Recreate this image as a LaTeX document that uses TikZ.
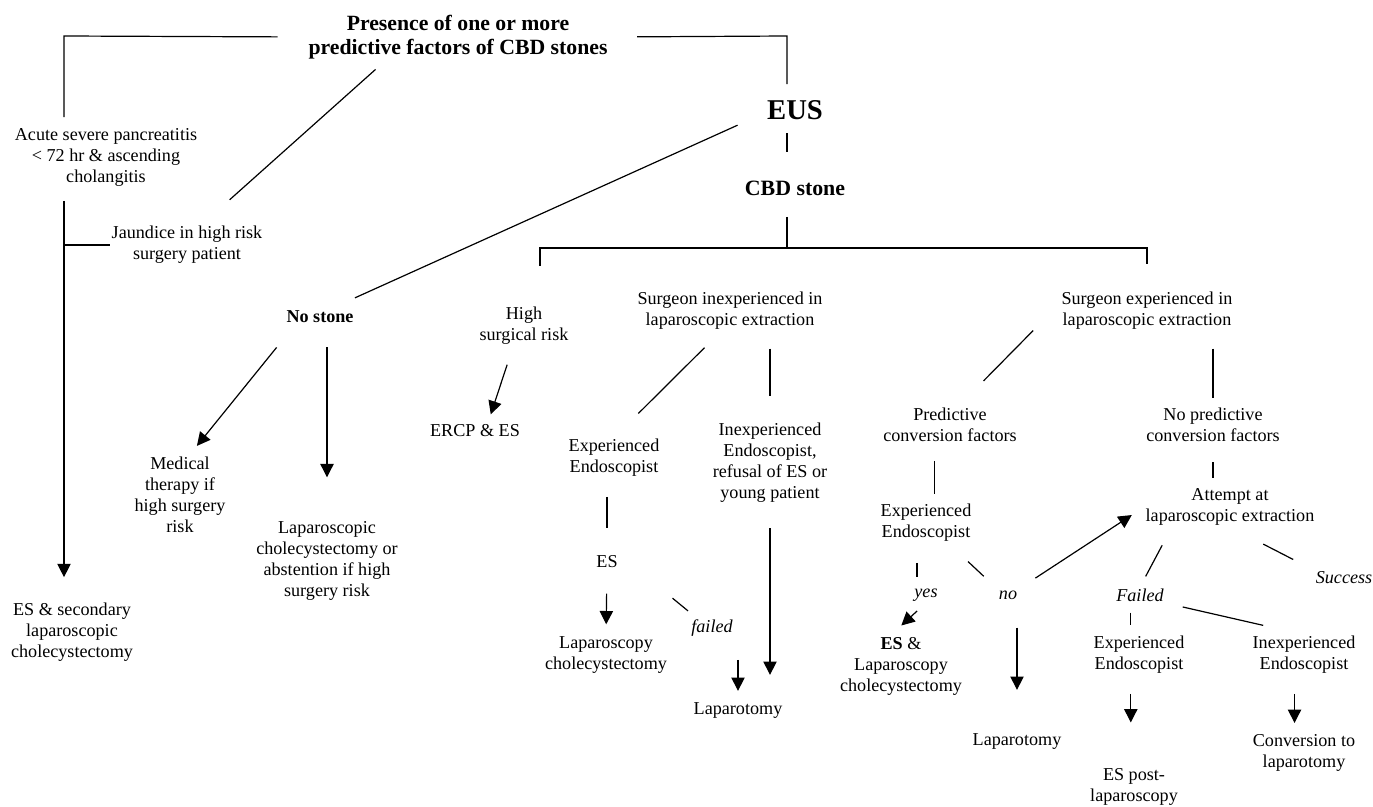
\documentclass[tikz,border=0pt]{standalone}
\usepackage{fontspec}
\setmainfont{Liberation Serif}
\usetikzlibrary{arrows.meta}

\begin{document}
\begin{tikzpicture}[x=0.75pt,y=0.75pt,yscale=-1,xscale=1,line width=0.9pt,
  txt/.style={align=center,inner sep=0.75pt,font=\fontsize{13.6}{15.75}\selectfont},
  txtb/.style={txt,font=\fontsize{13.6}{15.75}\selectfont\bfseries},
  txti/.style={txt,font=\fontsize{13.6}{15.75}\selectfont\itshape},
  ttl/.style={txt,font=\fontsize{16.3}{18}\selectfont\bfseries},
  arr/.style={-{Triangle[length=10pt,width=10pt]}}]
\useasboundingbox (0,0) rectangle (1373,806);

\coordinate (tl) at (64,36);
\coordinate (tr) at (787,36);
\coordinate (barl) at (540,248);
\coordinate (barr) at (1147,248);

% Text Node
\draw (458,37) node [ttl] (title) {Presence of one or more\\predictive factors of CBD stones};
% Text Node
\draw (795,110) node [txt,font=\fontsize{21.5}{24}\selectfont\bfseries] (eus) {EUS};
% Text Node
\draw (795,188) node [ttl,font=\fontsize{16.4}{18}\selectfont\bfseries] (cbd) {CBD stone};
% Text Node
\draw (106,157) node [txt] (acute) {Acute severe pancreatitis\\< 72 hr \& ascending\\cholangitis};
% Text Node
\draw (187,245) node [txt] (jaundice) {Jaundice in high risk\\surgery patient};
% Text Node
\draw (72,632) node [txt] (esec) {ES \& secondary\\laparoscopic\\cholecystectomy};
% Text Node
\draw (320,317) node [txtb] (nostone) {No stone};
% Text Node
\draw (180,495) node [txt] (medical) {Medical\\therapy if\\high surgery\\risk};
% Text Node
\draw (327,561) node [txt] (lapchol) {Laparoscopic\\cholecystectomy or\\abstention if high\\surgery risk};
% Text Node
\draw (524,326) node [txt] (highrisk) {High\\surgical risk};
% Text Node
\draw (475,431) node [txt] (ercp) {ERCP \& ES};
% Text Node
\draw (730,311) node [txt] (sinexp) {Surgeon inexperienced in\\laparoscopic extraction};
% Text Node
\draw (614,458) node [txt] (expendo1) {Experienced\\Endoscopist};
% Text Node
\draw (770,463) node [txt] (inexpendo1) {Inexperienced\\Endoscopist,\\refusal of ES or\\young patient};
% Text Node
\draw (607,562) node [txt] (es1) {ES};
% Text Node
\draw (606,655) node [txt] (lapchol1) {Laparoscopy\\cholecystectomy};
% Text Node
\draw (712,628) node [txti] (failed1) {failed};
% Text Node
\draw (738,711) node [txt] (laparotomy1) {Laparotomy};
% Text Node
\draw (1147,311) node [txt] (sexp) {Surgeon experienced in\\laparoscopic extraction};
% Text Node
\draw (950,425) node [txt] (predconv) {Predictive\\conversion factors};
% Text Node
\draw (1213,425) node [txt] (nopredconv) {No predictive\\conversion factors};
% Text Node
\draw (926,523) node [txt] (expendo2) {Experienced\\Endoscopist};
% Text Node
\draw (1230,507) node [txt] (attempt) {Attempt at\\laparoscopic extraction};
% Text Node
\draw (926,595) node [txti] (yesl) {yes};
% Text Node
\draw (1008,595) node [txti] (nol) {no};
% Text Node
\draw (901,666) node [txt] (esl) {\textbf{ES} \&\\Laparoscopy\\cholecystectomy};
% Text Node
\draw (1017,742) node [txt] (laparotomy2) {Laparotomy};
% Text Node
\draw (1140,595) node [txti] (failed2) {Failed};
% Text Node
\draw (1344,578) node [txti] (success) {Success};
% Text Node
\draw (1139,655) node [txt] (expendo3) {Experienced\\Endoscopist};
% Text Node
\draw (1304,655) node [txt] (inexpendo3) {Inexperienced\\Endoscopist};
% Text Node
\draw (1134,787) node [txt] (espost) {ES post-\\laparoscopy};
% Text Node
\draw (1304,753) node [txt] (conv) {Conversion to\\laparotomy};

% Connection
\draw [shorten <=22pt,shorten >=7pt] (title.west) -- (tl) -- (tl |- acute.north);
% Connection
\draw [arr,shorten <=10pt,shorten >=18pt] (tl |- acute.south) -- (tl |- esec.north);
% Connection
\draw (tl |- jaundice.west) -- (jaundice.west);
% Connection
\draw [shorten <=10pt,shorten >=28pt] (title.198) -- (jaundice.54);
% Connection
\draw [shorten <=21pt,shorten >=11pt] (title.east) -- (tr) -- (tr |- eus.north);
% Connection
\draw [shorten <=9pt,shorten >=20.6pt] (tr |- eus.south) -- (tr |- cbd.north);
% Connection
\draw [shorten <=15pt] (tr |- cbd.south) -- (tr |- barl);
% Connection
\draw [shorten <=30pt,shorten >=20pt] (barl |- highrisk.north) -- (barl) -- (barr) -- (barr |- sexp.north);
% Connection
\draw [shorten <=23pt,shorten >=21pt] (eus.185) -- (nostone.39);
% Connection
\draw [arr,shorten <=22pt,shorten >=9.3pt] (nostone.197) -- (medical.77);
% Connection
\draw [arr,shorten <=17pt,shorten >=32pt] (lapchol.north |- nostone.south) -- (lapchol.north);
% Connection
\draw [arr,shorten <=14.5pt,shorten >=7pt] (highrisk.242) -- (ercp.31);
% Connection
\draw [shorten <=17.4pt,shorten >=25.8pt] (sinexp.246) -- (expendo1.north);
% Connection
\draw [shorten <=13pt,shorten >=19pt] (inexpendo1.north |- sinexp.south) -- (inexpendo1.north);
% Connection
\draw [shorten <=14pt,shorten >=20pt] (es1.north |- expendo1.south) -- (es1.north);
% Connection
\draw [arr,shorten <=18pt,shorten >=8pt] (es1.south) -- (lapchol1.north);
% Connection
\draw [shorten <=51.8pt,shorten >=8.5pt] (es1.north east) -- (failed1.147);
% Connection
\draw [arr,shorten <=16.5pt,shorten >=8pt] (laparotomy1.north |- failed1.south) -- (laparotomy1.north);
% Connection
\draw [arr,shorten <=18pt,shorten >=20pt] (inexpendo1.south) -- (inexpendo1.south |- laparotomy1.north);
% Connection
\draw [shorten <=28.6pt,shorten >=27pt] (sexp.175) -- (predconv.66);
% Connection
\draw [shorten <=13pt,shorten >=6.4pt] (nopredconv.north |- sexp.south) -- (nopredconv.north);
% Connection
\draw [shorten <=13pt,shorten >=6.4pt] (expendo2.68 |- predconv.south) -- (expendo2.68);
% Connection
\draw [shorten <=14pt,shorten >=7pt] (nopredconv.south) -- (nopredconv.south |- attempt.north);
% Connection
\draw [shorten <=14.6pt,shorten >=8pt] (yesl.139 |- expendo2.south) -- (yesl.139);
% Connection
\draw [shorten <=20pt,shorten >=14pt] (expendo2.-42) -- (nol.north west);
% Connection
\draw [arr,shorten <=15pt,shorten >=11pt] (nol.north east) -- (attempt.west);
% Connection
\draw [arr,shorten <=9pt,shorten >=11pt] (yesl.south) -- (esl.109);
% Connection
\draw [arr,shorten <=20pt,shorten >=32pt] (laparotomy2.north |- nol.south) -- (laparotomy2.north);
% Connection
\draw [shorten <=15.5pt,shorten >=9pt] (attempt.199) -- (failed2.north);
% Connection
\draw [shorten <=28pt,shorten >=17.7pt] (attempt.south) -- (success.north west);
% Connection
\draw [shorten <=7.3pt,shorten >=7pt] (expendo3.112 |- failed2.south) -- (expendo3.112);
% Connection
\draw [shorten <=13.4pt,shorten >=31.4pt] (failed2.south east) -- (inexpendo3.north);
% Connection
\draw [arr,shorten <=13.9pt,shorten >=33.4pt] (expendo3.248) -- (expendo3.248 |- espost.north);
% Connection
\draw [arr,shorten <=13.9pt,shorten >=7.5pt] (inexpendo3.245) -- (inexpendo3.245 |- conv.north);

\end{tikzpicture}
\end{document}
